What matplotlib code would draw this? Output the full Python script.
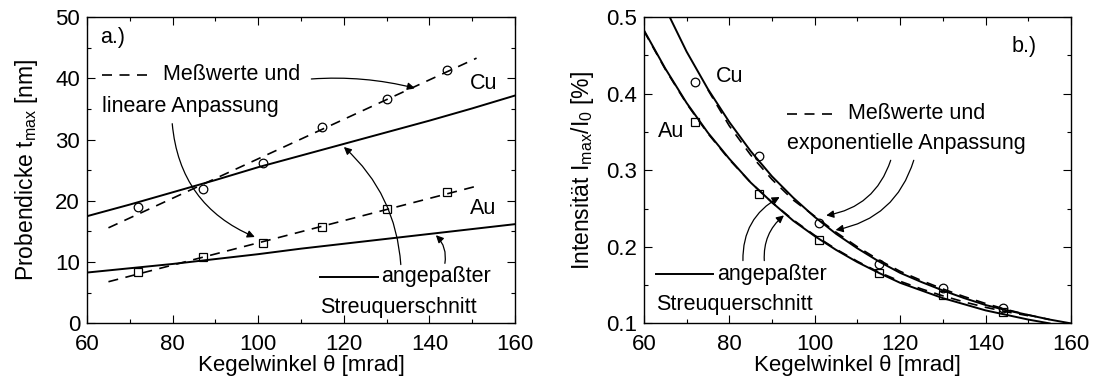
import matplotlib.pyplot as plt
from matplotlib.ticker import MultipleLocator
from matplotlib.lines import Line2D

plt.rcParams['font.family'] = ['Liberation Sans', 'DejaVu Sans']
plt.rcParams['mathtext.fontset'] = 'custom'
plt.rcParams['mathtext.rm'] = 'Liberation Sans'
plt.rcParams['mathtext.default'] = 'regular'
plt.rcParams['font.size'] = 15.5

# measured cone angles (both panels)
theta_meas = [72, 87, 101, 115, 130, 144]

# panel a) thickness t_max [nm]
cu_thick = [19.0, 22.0, 26.2, 32.0, 36.6, 41.3]
au_thick = [8.4, 10.9, 13.1, 15.7, 18.6, 21.4]
fit_x = [65, 151]
cu_thick_fit = [15.6, 43.3]
au_thick_fit = [6.8, 22.4]
curve_x_a = [60, 70, 80, 90, 100, 110, 120, 130, 140, 150, 160]
cu_thick_calc = [17.5, 19.4, 21.4, 23.4, 25.5, 27.4, 29.3, 31.2, 33.1, 35.1, 37.2]
au_thick_calc = [8.3, 9.0, 9.7, 10.5, 11.3, 12.2, 13.0, 13.8, 14.6, 15.4, 16.2]

# panel b) intensity I_max/I_0 [%]
cu_int = [0.415, 0.318, 0.231, 0.178, 0.146, 0.120]
au_int = [0.363, 0.269, 0.209, 0.166, 0.137, 0.115]
cu_curve_x = [65, 70, 75, 80, 85, 90, 95, 100, 105, 110, 115, 120, 125, 130, 135, 140, 145, 150, 155, 160]
cu_int_calc = [0.512, 0.455, 0.406, 0.363, 0.325, 0.292, 0.264, 0.239, 0.217, 0.198, 0.181, 0.166,
               0.154, 0.143, 0.133, 0.124, 0.117, 0.111, 0.105, 0.100]
au_curve_x = [60, 65, 70, 75, 80, 85, 90, 95, 100, 105, 110, 115, 120, 125, 130, 135, 140, 145, 150, 155]
au_int_calc = [0.483, 0.433, 0.388, 0.349, 0.315, 0.284, 0.258, 0.234, 0.214, 0.196, 0.180, 0.166,
               0.153, 0.143, 0.133, 0.125, 0.117, 0.111, 0.105, 0.100]
cu_fit_x = [75, 80, 85, 90, 95, 100, 105, 110, 115, 120, 125, 130, 135, 140, 145, 150, 155]
cu_int_fit = [0.405, 0.358, 0.320, 0.288, 0.261, 0.240, 0.219, 0.200, 0.183, 0.168,
              0.156, 0.145, 0.135, 0.126, 0.118, 0.111, 0.105]
au_fit_x = [60, 65, 70, 75, 80, 85, 90, 95, 100, 105, 110, 115, 120, 125, 130, 135, 140, 145, 150]
au_int_fit = [0.482, 0.432, 0.387, 0.348, 0.314, 0.284, 0.258, 0.235, 0.215, 0.197, 0.181, 0.167,
              0.155, 0.145, 0.136, 0.128, 0.121, 0.115, 0.110]

dash = (0, (6, 4.5))
solid_kw = dict(color='black', lw=1.4)
dash_kw = dict(color='black', lw=1.2, linestyle=dash)
mk_kw = dict(linestyle='none', mfc='none', mec='black', mew=0.9)


def arrow(ax, tip, start, rad):
    ax.annotate('', xy=tip, xytext=start,
                arrowprops=dict(arrowstyle='-|>', color='black', lw=0.9, mutation_scale=11,
                                shrinkA=0, shrinkB=0,
                                connectionstyle='arc3,rad=%s' % rad))


def style_axes(ax):
    ax.tick_params(which='both', direction='in', top=True, right=True, width=0.8, labelsize=16)
    ax.tick_params(which='major', length=6)
    ax.tick_params(which='minor', length=3)
    ax.tick_params(axis='x', which='major', pad=8)
    ax.tick_params(axis='y', which='major', pad=5)
    for sp in ax.spines.values():
        sp.set_linewidth(1.0)
    ax.set_xlim(60, 160)
    ax.xaxis.set_major_locator(MultipleLocator(20))
    ax.xaxis.set_minor_locator(MultipleLocator(10))
    ax.set_xlabel('Kegelwinkel θ [mrad]', fontsize=16, labelpad=0)


fig = plt.figure(figsize=(10.95, 3.8), dpi=100)
ax1 = fig.add_axes([0.0795, 0.149, 0.3909, 0.806])
ax2 = fig.add_axes([0.588, 0.149, 0.390, 0.806])

# ---- panel a ----
ax1.plot(curve_x_a, cu_thick_calc, **solid_kw)
ax1.plot(curve_x_a, au_thick_calc, **solid_kw)
ax1.plot(fit_x, cu_thick_fit, **dash_kw)
ax1.plot(fit_x, au_thick_fit, **dash_kw)
ax1.plot(theta_meas, cu_thick, marker='o', markersize=6.2, **mk_kw)
ax1.plot(theta_meas, au_thick, marker='s', markersize=5.8, **mk_kw)
style_axes(ax1)
ax1.set_ylim(0, 50)
ax1.yaxis.set_major_locator(MultipleLocator(10))
ax1.yaxis.set_minor_locator(MultipleLocator(5))
ax1.set_ylabel('Probendicke t$_{max}$ [nm]', fontsize=16.5, labelpad=11)

ax1.text(63.0, 46.6, 'a.)', va='center', ha='left')
ax1.add_line(Line2D([0.035, 0.145], [0.812, 0.812], transform=ax1.transAxes, **dash_kw))
ax1.text(77.8, 40.6, 'Meßwerte und', va='center', ha='left')
ax1.text(63.5, 35.4, 'lineare Anpassung', va='center', ha='left')
ax1.text(149.5, 39.2, 'Cu', va='center', ha='left')
ax1.text(149.5, 18.7, 'Au', va='center', ha='left')
ax1.add_line(Line2D([0.544, 0.68], [0.152, 0.152], transform=ax1.transAxes, **solid_kw))
ax1.text(128.8, 7.6, 'angepaßter', va='center', ha='left')
ax1.text(114.4, 2.6, 'Streuquerschnitt', va='center', ha='left')
arrow(ax1, (136.6, 38.4), (112.4, 39.9), -0.08)
arrow(ax1, (99.2, 14.1), (79.9, 32.6), 0.3)
arrow(ax1, (120.0, 28.8), (133.3, 9.6), 0.2)
arrow(ax1, (141.5, 14.4), (143.6, 9.8), 0.25)

# ---- panel b ----
ax2.plot(cu_curve_x, cu_int_calc, **solid_kw)
ax2.plot(au_curve_x, au_int_calc, **solid_kw)
ax2.plot(cu_fit_x, cu_int_fit, **dash_kw)
ax2.plot(au_fit_x, au_int_fit, **dash_kw)
ax2.plot(theta_meas, cu_int, marker='o', markersize=6.2, **mk_kw)
ax2.plot(theta_meas, au_int, marker='s', markersize=5.8, **mk_kw)
style_axes(ax2)
ax2.set_ylim(0.1, 0.5)
ax2.yaxis.set_major_locator(MultipleLocator(0.1))
ax2.yaxis.set_minor_locator(MultipleLocator(0.05))
ax2.set_ylabel('Intensität I$_{max}$/I$_0$ [%]', fontsize=16.5, labelpad=7)

ax2.text(146.2, 0.462, 'b.)', va='center', ha='left')
ax2.text(76.8, 0.423, 'Cu', va='center', ha='left')
ax2.text(63.2, 0.350, 'Au', va='center', ha='left')
ax2.add_line(Line2D([0.335, 0.442], [0.685, 0.685], transform=ax2.transAxes, **dash_kw))
ax2.text(107.9, 0.374, 'Meßwerte und', va='center', ha='left')
ax2.text(93.5, 0.335, 'exponentielle Anpassung', va='center', ha='left')
ax2.add_line(Line2D([0.029, 0.162], [0.16, 0.16], transform=ax2.transAxes, **solid_kw))
ax2.text(77.1, 0.164, 'angepaßter', va='center', ha='left')
ax2.text(62.9, 0.1245, 'Streuquerschnitt', va='center', ha='left')
arrow(ax2, (102.7, 0.241), (117.8, 0.313), -0.3)
arrow(ax2, (104.9, 0.222), (123.2, 0.313), -0.3)
arrow(ax2, (91.8, 0.265), (83.2, 0.182), -0.3)
arrow(ax2, (92.8, 0.241), (88.2, 0.182), -0.25)

fig.savefig('out.png', dpi=100)
